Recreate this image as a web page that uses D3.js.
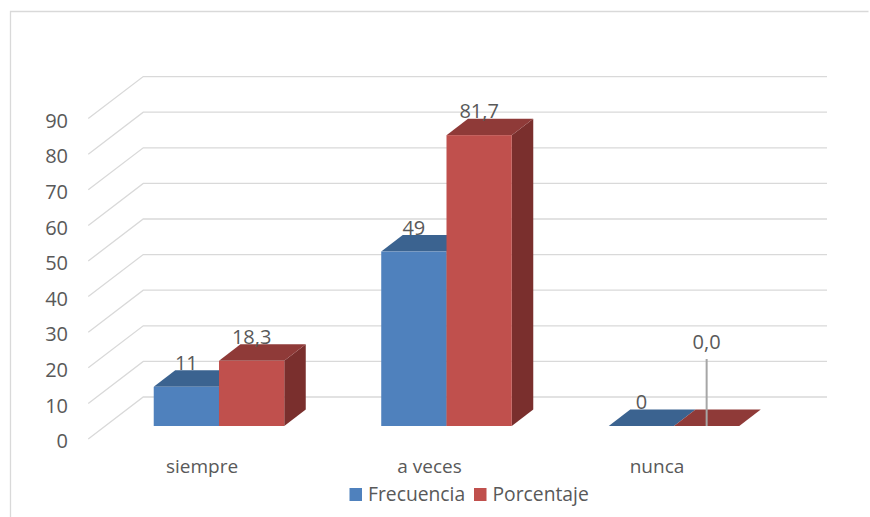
<!DOCTYPE html>
<html lang="es">
<head>
<meta charset="utf-8">
<script src="https://cdn.jsdelivr.net/npm/d3@7"></script>
<style>
  html, body { margin: 0; padding: 0; background: #fff; }
  svg { display: block; }
  text { font-family: "Open Sans", "Noto Sans", sans-serif; fill: #595959; }
</style>
</head>
<body>
<svg id="chart" width="870" height="517"></svg>
<script>
const categories = ["siempre", "a veces", "nunca"];
const seriesNames = ["Frecuencia", "Porcentaje"];
const frecuencia = [11, 49, 0];
const porcentaje = [18.3, 81.7, 0];
const porcentajeLabels = ["18,3", "81,7", "0,0"];
const yTicks = [0, 10, 20, 30, 40, 50, 60, 70, 80, 90];

const width = 870, height = 517;
const svg = d3.select("#chart");

// Bar plane scales
const y = d3.scaleLinear().domain([0, 90]).range([426, 105.6]);
const x0 = d3.scaleBand().domain(categories).range([105.25, 787.75]).paddingInner(0.4263).paddingOuter(0.2131);
const x1 = d3.scaleBand().domain(seriesNames).range([0, x0.bandwidth()]);

// Oblique projection offsets
const barDepth = { dx: 21.5, dy: -16.5 };
const wallFront = { dx: -17, dy: 13 };
const wallBack = { dx: 38, dy: -29 };

const colors = {
  Frecuencia: { front: "#4f81bd", top: "#3b6390", side: "#335577" },
  Porcentaje: { front: "#c0504d", top: "#8f3a38", side: "#7a2f2d" }
};

// Outer frame: only top and left edges are in view
svg.append("path")
  .attr("d", "M10.5," + height + "V11.5H868.5")
  .attr("fill", "none").attr("stroke", "#d9d9d9").attr("stroke-width", 1.3);

// Side wall and back wall gridlines
const wallRight = 827;
svg.append("g").selectAll("path").data(yTicks).join("path")
  .attr("d", d => {
    const p = d3.path();
    p.moveTo(x0.range()[0] + wallFront.dx, y(d) + wallFront.dy);
    p.lineTo(x0.range()[0] + wallBack.dx, y(d) + wallBack.dy);
    p.lineTo(wallRight, y(d) + wallBack.dy);
    return p.toString();
  })
  .attr("fill", "none").attr("stroke", "#d9d9d9").attr("stroke-width", 1.3);

// Value axis labels
const yAxis = d3.axisLeft(y).tickValues(yTicks).tickSize(0).tickPadding(0);
const axisG = svg.append("g")
  .attr("transform", `translate(68,${wallFront.dy + 1.5})`)
  .call(yAxis);
axisG.select(".domain").remove();
axisG.selectAll("text")
  .attr("font-size", 20).attr("font-family", null).attr("dy", "0.36em").attr("fill", "#595959");

// Bars, one series after the other so the red block overlaps its neighbour
const bars = [];
categories.forEach((c, i) => {
  bars.push({ cat: c, series: "Frecuencia", value: frecuencia[i], label: String(frecuencia[i]) });
  bars.push({ cat: c, series: "Porcentaje", value: porcentaje[i], label: porcentajeLabels[i] });
});

const poly = pts => pts.map(p => p.join(",")).join(" ");
const barG = svg.append("g").selectAll("g").data(bars).join("g");

barG.append("polygon") // side face
  .attr("points", d => {
    const xr = x0(d.cat) + x1(d.series) + x1.bandwidth();
    return poly([[xr, y(0)], [xr + barDepth.dx, y(0) + barDepth.dy], [xr + barDepth.dx, y(d.value) + barDepth.dy], [xr, y(d.value)]]);
  })
  .attr("fill", d => colors[d.series].side);

barG.append("polygon") // top face
  .attr("points", d => {
    const xl = x0(d.cat) + x1(d.series), xr = xl + x1.bandwidth();
    return poly([[xl, y(d.value)], [xl + barDepth.dx, y(d.value) + barDepth.dy], [xr + barDepth.dx, y(d.value) + barDepth.dy], [xr, y(d.value)]]);
  })
  .attr("fill", d => colors[d.series].top);

barG.append("rect") // front face
  .attr("x", d => x0(d.cat) + x1(d.series))
  .attr("y", d => y(d.value))
  .attr("width", x1.bandwidth())
  .attr("height", d => y(0) - y(d.value))
  .attr("fill", d => colors[d.series].front);

// Leader line for the zero percentage label
const zeroBar = bars[5];
const zeroX = x0(zeroBar.cat) + x1(zeroBar.series) + x1.bandwidth() / 2;
svg.append("line")
  .attr("x1", zeroX).attr("x2", zeroX)
  .attr("y1", y(0)).attr("y2", 359)
  .attr("stroke", "#a6a6a6").attr("stroke-width", 2);

// Value labels
svg.append("g").selectAll("text").data(bars).join("text")
  .attr("x", d => x0(d.cat) + x1(d.series) + x1.bandwidth() / 2)
  .attr("y", (d, i) => i === 5 ? 349 : y(d.value) - 17)
  .attr("text-anchor", "middle")
  .attr("font-size", 20)
  .text(d => d.label);

// Category labels
svg.append("g").selectAll("text").data(categories).join("text")
  .attr("x", d => x0(d) + x0.bandwidth() / 2 - 17)
  .attr("y", 473)
  .attr("text-anchor", "middle")
  .attr("font-size", 19)
  .text(d => d);

// Legend
const legendSwatchX = [349.5, 474];
const legend = svg.append("g").selectAll("g").data(seriesNames).join("g")
  .attr("transform", (d, i) => `translate(${legendSwatchX[i]},488)`);
legend.append("rect").attr("width", 12.5).attr("height", 13)
  .attr("fill", d => colors[d].front);
legend.append("text").attr("x", 18.5).attr("y", 13)
  .attr("font-size", 19.3)
  .text(d => d);
</script>
</body>
</html>
